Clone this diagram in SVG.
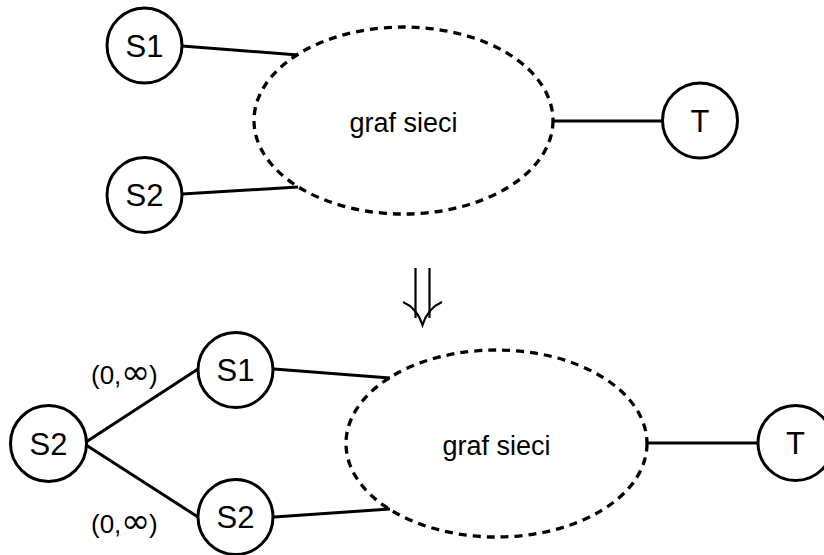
<svg xmlns="http://www.w3.org/2000/svg" width="824" height="555" viewBox="0 0 824 555">
  <style>
    .node circle { fill: #fff; stroke: #000; stroke-width: 3; }
    .cloud ellipse { fill: none; stroke: #000; stroke-width: 3.3; stroke-dasharray: 8 6; }
    .lbl { font-family: "Liberation Sans", Arial, sans-serif; fill: #000; text-anchor: middle; }
    .nodetxt { font-size: 31px; }
    .cloudtxt { font-size: 27px; }
    .edge { stroke: #000; stroke-width: 3; fill: none; }
    .cap { font-family: "Liberation Sans", Arial, sans-serif; fill: #000; font-size: 26px; }
    .inf { font-family: "DejaVu Sans", sans-serif; font-size: 35px; }
  </style>
  <rect width="824" height="555" fill="#fff"/>

  <!-- upper network -->
  <g id="connectors-top">
    <line class="edge" x1="182" y1="46" x2="298" y2="55"/>
    <line class="edge" x1="182" y1="194" x2="298" y2="187"/>
    <line class="edge" x1="553" y1="121" x2="663" y2="121"/>
  </g>
  <g id="graph-top" class="cloud">
    <ellipse cx="403.5" cy="120.5" rx="149.5" ry="93.5"/>
    <text class="lbl cloudtxt" x="403.5" y="132">graf sieci</text>
  </g>
  <g id="s1-top" class="node">
    <circle cx="144.5" cy="45.5" r="37.5"/>
    <text class="lbl nodetxt" x="144.5" y="56.5">S1</text>
  </g>
  <g id="s2-top" class="node">
    <circle cx="144.5" cy="195" r="37.5"/>
    <text class="lbl nodetxt" x="144.5" y="206">S2</text>
  </g>
  <g id="t-top" class="node">
    <circle cx="700" cy="120.5" r="37.5"/>
    <text class="lbl nodetxt" x="700" y="131.5">T</text>
  </g>

  <!-- transformation arrow -->
  <g id="transform-arrow" fill="none" stroke="#000" stroke-width="2.2">
    <line x1="415.5" y1="268" x2="415.5" y2="318"/>
    <line x1="429.5" y1="268" x2="429.5" y2="318"/>
    <path d="M403 302 Q417 308 422.5 325 Q428 308 442 302"/>
  </g>

  <!-- lower network -->
  <g id="connectors-bottom">
    <line class="edge" x1="86" y1="442" x2="198" y2="369"/>
    <line class="edge" x1="86" y1="445" x2="198" y2="517"/>
    <line class="edge" x1="274" y1="369" x2="390" y2="378"/>
    <line class="edge" x1="274" y1="517" x2="390" y2="509"/>
    <line class="edge" x1="647" y1="443" x2="758" y2="443"/>
  </g>
  <g id="labels-bottom">
    <text class="cap" x="91" y="384">(0,<tspan class="inf" x="121" y="384">∞</tspan><tspan x="149" y="384">)</tspan></text>
    <text class="cap" x="91" y="533">(0,<tspan class="inf" x="121" y="533">∞</tspan><tspan x="149" y="533">)</tspan></text>
  </g>
  <g id="graph-bottom" class="cloud">
    <ellipse cx="496.5" cy="443.5" rx="150.5" ry="93.5"/>
    <text class="lbl cloudtxt" x="496.5" y="455">graf sieci</text>
  </g>
  <g id="s2-left" class="node">
    <circle cx="48.5" cy="443.5" r="38"/>
    <text class="lbl nodetxt" x="48.5" y="454.5">S2</text>
  </g>
  <g id="s1-bottom" class="node">
    <circle cx="235.5" cy="370" r="37.5"/>
    <text class="lbl nodetxt" x="235.5" y="381">S1</text>
  </g>
  <g id="s2-bottom" class="node">
    <circle cx="235.5" cy="517" r="37.5"/>
    <text class="lbl nodetxt" x="235.5" y="528">S2</text>
  </g>
  <g id="t-bottom" class="node">
    <circle cx="795.5" cy="443" r="37.5"/>
    <text class="lbl nodetxt" x="795.5" y="454">T</text>
  </g>
</svg>
